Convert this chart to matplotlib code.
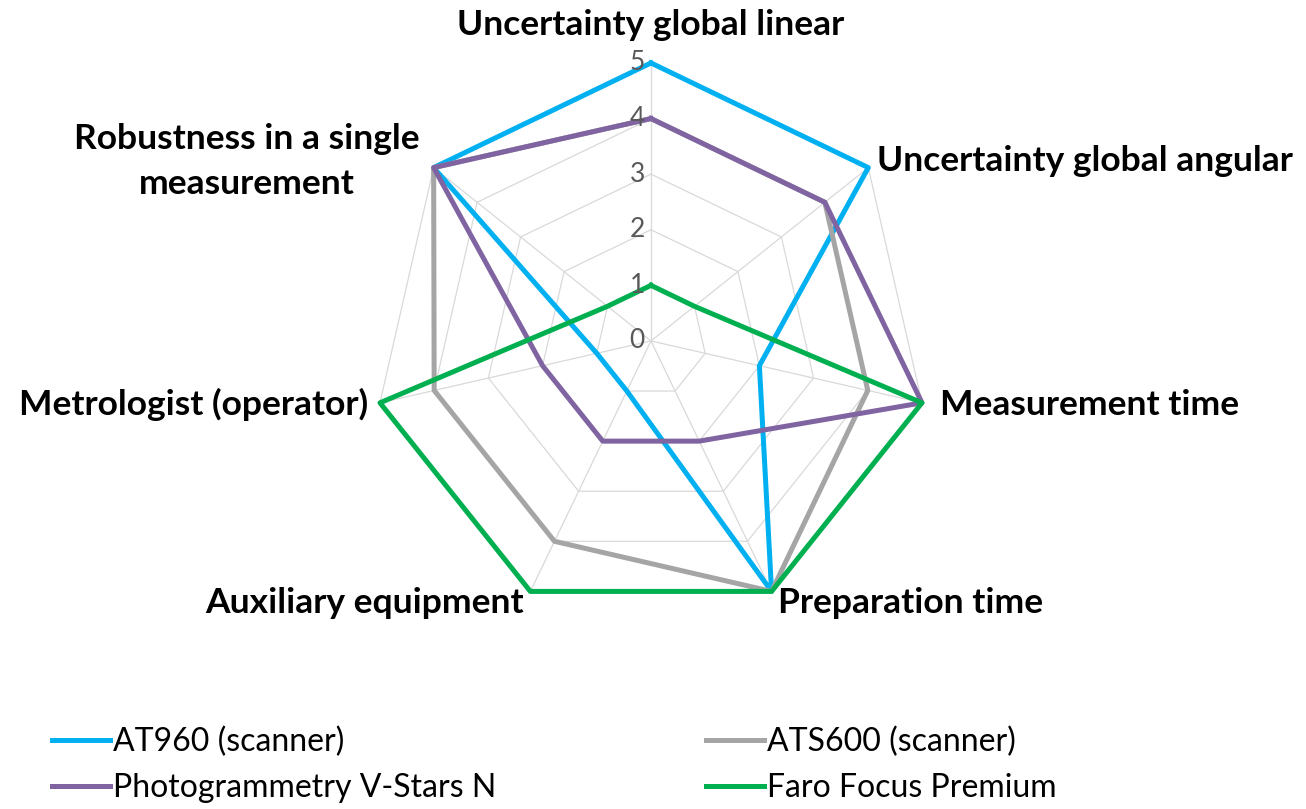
import numpy as np
import matplotlib.pyplot as plt

# axis categories (clockwise from top) and scores per instrument
categories = ['Uncertainty global linear', 'Uncertainty global angular', 'Measurement time',
              'Preparation time', 'Auxiliary equipment', 'Metrologist (operator)',
              'Robustness in a single\nmeasurement']
at960 = [5, 5, 2, 5, 1, 1, 5]
ats600 = [4, 4, 4, 5, 4, 4, 5]
vstars = [4, 4, 5, 2, 2, 2, 5]
faro = [1, 1, 5, 5, 5, 5, 1]
series_names = ['AT960 (scanner)', 'ATS600 (scanner)', 'Photogrammetry V-Stars N', 'Faro Focus Premium']
ticks = [0, 1, 2, 3, 4, 5]

colors = ['#00b0f0', '#a5a5a5', '#8064a2', '#00b050']

plt.rcParams['font.family'] = ['Lato', 'DejaVu Sans']

fig = plt.figure(figsize=(13.06, 8.09), dpi=100)
ax = fig.add_axes([0.2856, 0.2349, 0.4257, 0.6873], projection='polar')
ax.set_theta_offset(np.pi / 2)
ax.set_theta_direction(-1)
ax.set_ylim(0, 5)
ax.grid(False)
ax.spines['polar'].set_visible(False)
ax.set_xticks([])
ax.set_yticks([])

n = len(categories)
theta = np.arange(n) * 2 * np.pi / n
theta_c = np.append(theta, theta[0])

# polygon gridlines like excel
for r in ticks[1:]:
    ax.plot(theta_c, [r] * (n + 1), color='#d9d9d9', lw=0.9, zorder=1, clip_on=False)
for t in theta:
    ax.plot([t, t], [0, ticks[-1]], color='#d9d9d9', lw=0.9, zorder=1, clip_on=False)

handles = []
for vals, c, name in zip([at960, ats600, vstars, faro], colors, series_names):
    v = np.append(vals, vals[0])
    ln, = ax.plot(theta_c, v, color=c, lw=3.6, label=name, zorder=3, clip_on=False,
                  solid_joinstyle='round')
    handles.append(ln)

# value labels along the top axis
for r in ticks:
    ax.annotate(str(r), xy=(0, r), xytext=(-6, 0), textcoords='offset pixels',
                ha='right', va='center', fontsize=19, color='#595959')

# category labels
offsets = [(0, 38, 'center'), (9, 7, 'left'), (18, -2, 'left'), (6, -12, 'left'),
           (-7, -12, 'right'), (-12, -2, 'right'), (-14, 6, 'right')]
for t, lab, (dx, dy, ha) in zip(theta, categories, offsets):
    ax.annotate(lab, xy=(t, ticks[-1]), xytext=(dx, dy), textcoords='offset pixels',
                ha=ha, va='center', multialignment='center', fontsize=25.5,
                fontweight='bold', color='black', linespacing=1.5)

order = [0, 2, 1, 3]
fig.legend([handles[i] for i in order], [series_names[i] for i in order],
           loc='upper left', bbox_to_anchor=(52 / 1306, 1 - 727 / 809), ncol=2,
           frameon=False, fontsize=23, handlelength=1.82, handletextpad=0.1,
           columnspacing=6.55, labelspacing=0.5, borderpad=0, borderaxespad=0)

fig.savefig('out.png', dpi=100)
